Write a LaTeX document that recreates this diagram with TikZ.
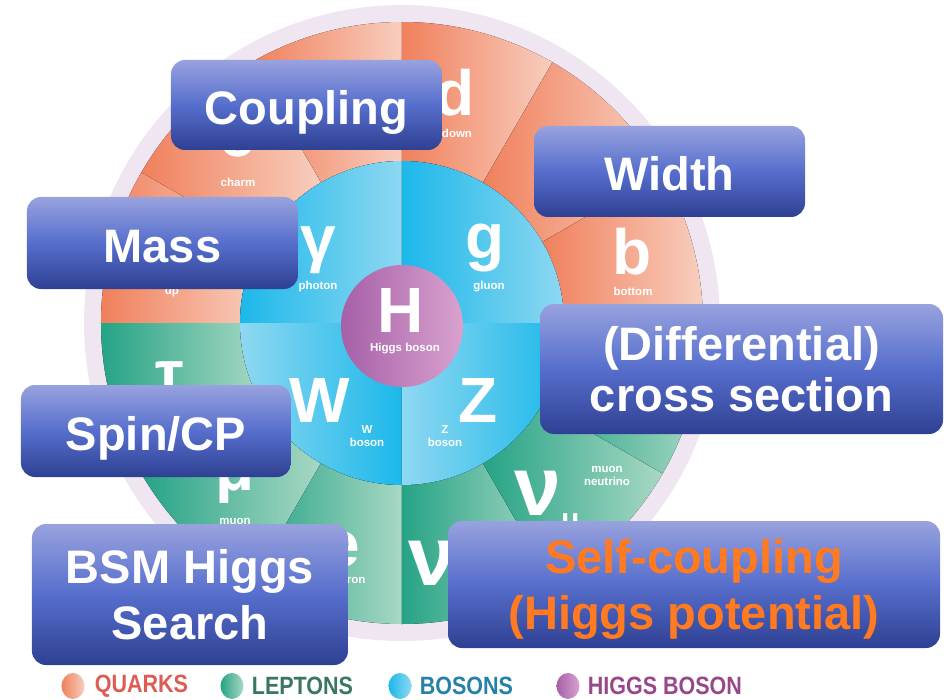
\documentclass[tikz,border=0pt]{standalone}
\usepackage{fontspec}
\setmainfont{Liberation Sans}
\newfontfamily\legendfont[FakeStretch=0.86]{Liberation Sans Bold}
\usepackage{xcolor}
\definecolor{qdark}{RGB}{240,128,92}
\definecolor{qlight}{RGB}{248,206,190}
\definecolor{ldark}{RGB}{38,163,133}
\definecolor{llight}{RGB}{168,216,196}
\definecolor{bdark}{RGB}{28,184,234}
\definecolor{blight}{RGB}{142,216,241}
\definecolor{hdark}{RGB}{166,96,168}
\definecolor{hlight}{RGB}{216,162,206}
\definecolor{rim}{RGB}{239,230,242}
\definecolor{btop}{RGB}{152,162,222}
\definecolor{bmid}{RGB}{86,110,204}
\definecolor{bbot}{RGB}{46,64,146}
\definecolor{sorange}{RGB}{255,122,32}
\definecolor{qtext}{RGB}{222,92,84}
\definecolor{ltext}{RGB}{58,118,98}
\definecolor{btext}{RGB}{38,128,170}
\definecolor{htext}{RGB}{152,72,138}
\usepackage{tikz}
\usetikzlibrary{shapes.geometric,positioning}

\begin{document}
\begin{tikzpicture}[
  x=1pt,y=1pt,
  quark/.style={left color=qdark,right color=qlight},
  lepton/.style={left color=ldark,right color=llight},
  boson/.style={left color=bdark,right color=blight},
  bosonr/.style={left color=blight,right color=bdark},
  glyph/.style={text=white,font=\bfseries\fontsize{64}{64}\selectfont,inner sep=0pt},
  glabel/.style={text=white,font=\bfseries\fontsize{11.5}{13}\selectfont,inner sep=0pt,align=center},
  topic/.style={rectangle,rounded corners=14pt,top color=btop,bottom color=bbot,middle color=bmid,text=white,font=\bfseries\fontsize{47}{56}\selectfont,align=center,inner sep=0pt},
  oneline/.style={text height=38.6pt,text depth=0pt},
  legdot/.style={ellipse,minimum width=23pt,minimum height=26pt,inner sep=0pt},
  legtext/.style={font=\legendfont\fontsize{25}{25}\selectfont,inner sep=0pt}
]
  \useasboundingbox (-402,-376) rectangle (543,323);

  % Wheel rim
  \fill[rim] (0,0) circle[radius=318];

  % Quarks
  \fill[quark] (90:162) arc[start angle=90,end angle=120,radius=162] -- (120:301) arc[start angle=120,end angle=90,radius=301] -- cycle;
  \fill[quark] (120:162) arc[start angle=120,end angle=150,radius=162] -- (150:301) arc[start angle=150,end angle=120,radius=301] -- cycle;
  \fill[quark] (150:162) arc[start angle=150,end angle=180,radius=162] -- (180:301) arc[start angle=180,end angle=150,radius=301] -- cycle;
  \fill[quark] (60:162) arc[start angle=60,end angle=90,radius=162] -- (90:301) arc[start angle=90,end angle=60,radius=301] -- cycle;
  \fill[quark] (30:162) arc[start angle=30,end angle=60,radius=162] -- (60:301) arc[start angle=60,end angle=30,radius=301] -- cycle;
  \fill[quark] (0:162) arc[start angle=0,end angle=30,radius=162] -- (30:301) arc[start angle=30,end angle=0,radius=301] -- cycle;

  % Leptons
  \fill[lepton] (180:162) arc[start angle=180,end angle=210,radius=162] -- (210:301) arc[start angle=210,end angle=180,radius=301] -- cycle;
  \fill[lepton] (210:162) arc[start angle=210,end angle=240,radius=162] -- (240:301) arc[start angle=240,end angle=210,radius=301] -- cycle;
  \fill[lepton] (240:162) arc[start angle=240,end angle=270,radius=162] -- (270:301) arc[start angle=270,end angle=240,radius=301] -- cycle;
  \fill[lepton] (270:162) arc[start angle=270,end angle=300,radius=162] -- (300:301) arc[start angle=300,end angle=270,radius=301] -- cycle;
  \fill[lepton] (300:162) arc[start angle=300,end angle=330,radius=162] -- (330:301) arc[start angle=330,end angle=300,radius=301] -- cycle;
  \fill[lepton] (330:162) arc[start angle=330,end angle=360,radius=162] -- (360:301) arc[start angle=360,end angle=330,radius=301] -- cycle;

  % Bosons
  \fill[boson] (0,0) -- (90:162) arc[start angle=90,end angle=180,radius=162] -- cycle;
  \fill[boson] (0,0) -- (0:162) arc[start angle=0,end angle=90,radius=162] -- cycle;
  \fill[bosonr] (0,0) -- (180:162) arc[start angle=180,end angle=270,radius=162] -- cycle;
  \fill[bosonr] (0,0) -- (270:162) arc[start angle=270,end angle=360,radius=162] -- cycle;

  % Higgs
  \node[circle,minimum size=122pt,inner sep=0pt,left color=hdark,right color=hlight] (higgs) at (0,-3) {};
  \node[glyph] (hsym) at (-1,13) {H};
  \node[glabel] (hname) at (3,-26) {Higgs boson};

  % Particle letters
  \node[glyph] (qc) at (-165,183) {c};
  \node[glabel] (charm) at (-164,141) {charm};
  \node[glabel] (up) at (-230,30) {up};
  \node[glyph] (qd) at (53,230) {d};
  \node[glabel] (down) at (55,190) {down};
  \node[glyph] (qb) at (230,71) {b};
  \node[glabel] (bottom) at (231,32) {bottom};
  \node[glyph] (bgam) at (-84,73) {γ};
  \node[glabel] (photon) at (-84,36) {photon};
  \node[glyph] (bglu) at (83,75) {g};
  \node[glabel] (gluon) at (87,36) {gluon};
  \node[glyph] (bw) at (-82,-77) {W};
  \node[glabel] (wname) at (-35,-113) {W\\boson};
  \node[glyph] (bz) at (76,-77) {Z};
  \node[glabel] (zname) at (43,-113) {Z\\boson};
  \node[glyph] (ltau) at (-232,-56) {τ};
  \node[glyph] (lmu) at (-167,-157) {μ};
  \node[glabel] (muon) at (-167,-198) {muon};
  \node[glyph] (lel) at (-60,-227) {e};
  \node[glabel] (electron) at (-59,-256) {electron};
  \node[glyph,font=\bfseries\fontsize{84}{84}\selectfont] (lnue) at (30,-240) {ν};
  \node[glyph,font=\bfseries\fontsize{84}{84}\selectfont] (lnumu) at (145,-180) {ν\raisebox{-14pt}{\fontsize{30}{30}\selectfont μ}};
  \node[glabel] (numu) at (205,-153) {muon\\neutrino};

  % Measurements
  \node[topic,oneline,minimum width=271pt,minimum height=90pt] (coupling) at (-95.5,218) {Coupling};
  \node[topic,oneline,minimum width=271pt,minimum height=91pt] (width) at (267.5,151.5) {Width};
  \node[topic,oneline,minimum width=271pt,minimum height=92pt] (mass) at (-239.5,80) {Mass};
  \node[topic,minimum width=403pt,minimum height=130pt,font=\bfseries\fontsize{47}{51}\selectfont] (xsec) at (339.5,-46) {(Differential)\\cross section};
  \node[topic,oneline,minimum width=270pt,minimum height=92pt] (spin) at (-246,-108) {Spin/CP};
  \node[topic,minimum width=316pt,minimum height=141pt] (bsm) at (-212,-271.5) {BSM Higgs\\Search};
  \node[topic,text=sorange,minimum width=492pt,minimum height=127pt] (self) at (292,-261.5) {Self-coupling\\\raisebox{0pt}[\height][0pt]{(Higgs potential)}};

  % Legend
  \node[legdot,left color=qdark,right color=qlight] (qdot) at (-329,-363) {};
  \node[legtext,text=qtext,right=10pt of qdot] (qname) {QUARKS};
  \node[legdot,left color=ldark,right color=llight] (ldot) at (-170,-363) {};
  \node[legtext,text=ltext,right=8pt of ldot] (lname) {LEPTONS};
  \node[legdot,left color=bdark,right color=blight] (bdot) at (-2,-363) {};
  \node[legtext,text=btext,right=8pt of bdot] (bname) {BOSONS};
  \node[legdot,left color=hdark,right color=hlight] (hdot) at (166,-363) {};
  \node[legtext,text=htext,right=8pt of hdot] (hname2) {HIGGS BOSON};
\end{tikzpicture}
\end{document}
